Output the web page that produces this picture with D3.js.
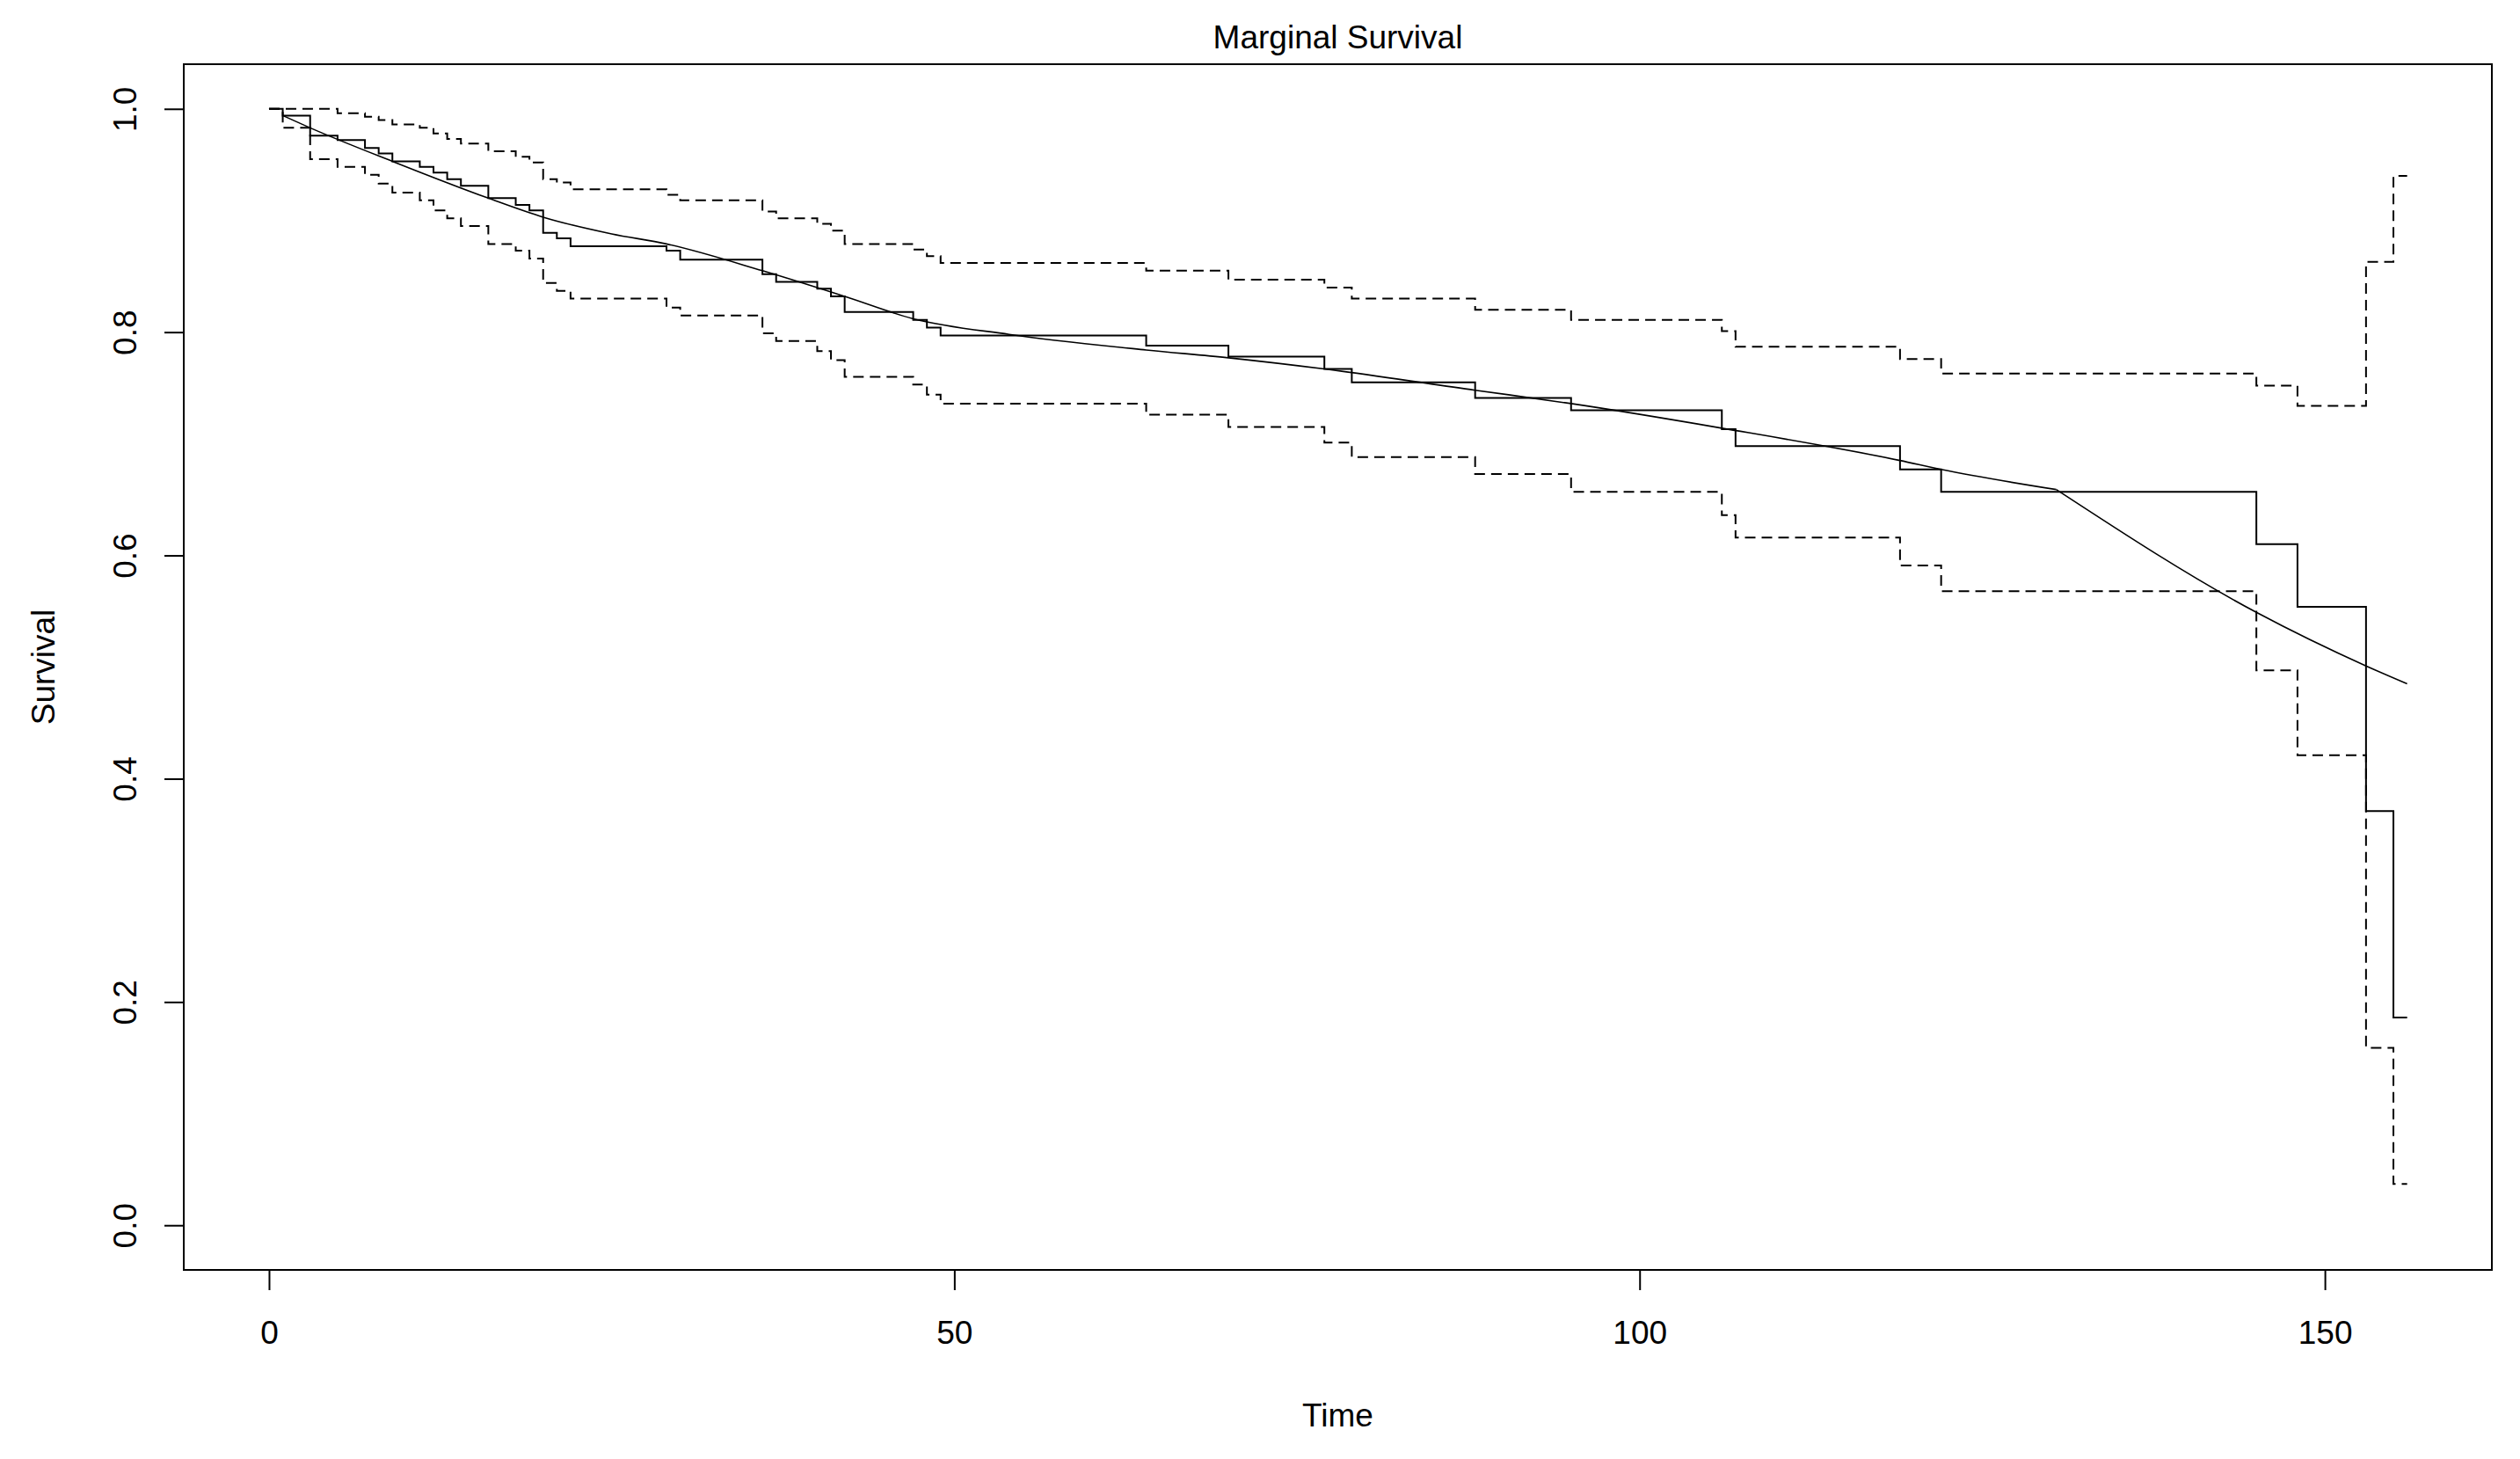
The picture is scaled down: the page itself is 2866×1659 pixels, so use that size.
<!DOCTYPE html>
<html>
<head>
<meta charset="utf-8">
<script src="https://cdn.jsdelivr.net/npm/d3@7"></script>
<style>
  html, body { margin: 0; padding: 0; background: #fff; }
  svg { display: block; }
  text { font-family: "Liberation Sans", Arial, sans-serif; fill: #000; }
</style>
</head>
<body>
<svg id="chart" width="2866" height="1659"></svg>
<script>
// ---- data ----
const timePoints = [0,1,3,5,7,8,9,11,12,13,14,16,18,19,20,21,22,29,30,36,37,40,41,42,47,48,49,64,70,77,79,88,95,106,107,119,122,145,148,153,155,156];
const kmSurvival = [1,0.994,0.976,0.972,0.965,0.960,0.953,0.948,0.943,0.937,0.931,0.920,0.914,0.909,0.889,0.884,0.877,0.873,0.865,0.852,0.845,0.839,0.832,0.818,0.811,0.804,0.797,0.788,0.778,0.767,0.755,0.741,0.730,0.713,0.698,0.677,0.657,0.610,0.554,0.371,0.186,0.186];
const upperCI = [1,1,1,0.996,0.993,0.990,0.986,0.983,0.978,0.973,0.969,0.962,0.957,0.952,0.937,0.934,0.928,0.923,0.918,0.908,0.902,0.897,0.891,0.879,0.874,0.868,0.862,0.855,0.847,0.840,0.830,0.820,0.811,0.801,0.787,0.776,0.763,0.752,0.734,0.863,0.940,0.940];
const lowerCI = [1,0.983,0.955,0.948,0.941,0.933,0.925,0.918,0.909,0.902,0.895,0.879,0.873,0.866,0.844,0.837,0.830,0.822,0.815,0.799,0.792,0.783,0.775,0.760,0.753,0.744,0.736,0.726,0.715,0.701,0.688,0.673,0.657,0.636,0.616,0.591,0.568,0.497,0.421,0.159,0.037,0.037];
const smoothTime = [1,3,9,16,20,25,29,36,42,47,54,64,70,77,88,95,106,119,122,130.4,145,153,156];
const smoothSurv = [0.994,0.983,0.953,0.920,0.903,0.888,0.879,0.855,0.832,0.812,0.798,0.784,0.777,0.767,0.748,0.736,0.714,0.685,0.677,0.659,0.549,0.501,0.485];
const smoothKnot = 130.4; // where the fitted curve changes slope sharply
const xTicks = [0,50,100,150];
const yTicks = [0,0.2,0.4,0.6,0.8,1.0];
const titleText = "Marginal Survival";
const xLabel = "Time";
const yLabel = "Survival";

// ---- layout ----
const svg = d3.select("#chart");
const boxL = 209, boxR = 2834, boxT = 73, boxB = 1444;
const x = d3.scaleLinear().domain([-6.24, 162.24]).range([208.7, 2834.9]);
const y = d3.scaleLinear().domain([-0.04, 1.04]).range([boxB, boxT]);
const FS = 37;

svg.append("rect").attr("width", 2866).attr("height", 1659).attr("fill", "#fff");

svg.append("clipPath").attr("id", "plotclip")
  .append("rect").attr("x", boxL).attr("y", boxT).attr("width", boxR - boxL).attr("height", boxB - boxT);

const g = svg.append("g").attr("clip-path", "url(#plotclip)");

const stepLine = (vals) => d3.line()
  .x((d, i) => x(timePoints[i]))
  .y((d) => y(d))
  .curve(d3.curveStepAfter)(vals);

// confidence bounds (dashed)
[upperCI, lowerCI].forEach(vals => {
  g.append("path")
    .attr("d", stepLine(vals))
    .attr("fill", "none")
    .attr("stroke", "#000")
    .attr("stroke-width", 2)
    .attr("stroke-dasharray", "12,7");
});

// KM step (solid)
g.append("path")
  .attr("d", stepLine(kmSurvival))
  .attr("fill", "none")
  .attr("stroke", "#000")
  .attr("stroke-width", 2);

// smooth fitted curve (two monotone pieces joined at the knot)
const smoothPts = smoothTime.map((t, i) => [t, smoothSurv[i]]);
const smoothLine = d3.line()
  .x(d => x(d[0]))
  .y(d => y(d[1]))
  .curve(d3.curveMonotoneX);
[smoothPts.filter(d => d[0] <= smoothKnot), smoothPts.filter(d => d[0] >= smoothKnot)].forEach(seg => {
  g.append("path")
    .attr("d", smoothLine(seg))
    .attr("fill", "none")
    .attr("stroke", "#000")
    .attr("stroke-width", 1.6);
});

// box
svg.append("rect")
  .attr("x", boxL).attr("y", boxT)
  .attr("width", boxR - boxL).attr("height", boxB - boxT)
  .attr("fill", "none").attr("stroke", "#000").attr("stroke-width", 2);

// x axis
const xAxis = svg.append("g").attr("transform", `translate(0,${boxB})`)
  .call(d3.axisBottom(x).tickValues(xTicks).tickSize(23).tickFormat(d3.format("d")));
xAxis.select(".domain").remove();
xAxis.selectAll(".tick line").attr("stroke", "#000").attr("stroke-width", 2);
xAxis.selectAll(".tick text")
  .attr("y", 84).attr("dy", 0)
  .attr("font-size", FS)
  .attr("font-family", '"Liberation Sans", Arial, sans-serif')
  .attr("fill", "#000");

// y axis
const yAxis = svg.append("g").attr("transform", `translate(${boxL},0)`)
  .call(d3.axisLeft(y).tickValues(yTicks).tickSize(22).tickFormat(d3.format(".1f")));
yAxis.select(".domain").remove();
yAxis.selectAll(".tick line").attr("stroke", "#000").attr("stroke-width", 2);
yAxis.selectAll(".tick text")
  .attr("x", 0).attr("y", 0).attr("dy", 0)
  .attr("transform", "translate(-54,0) rotate(-90)")
  .attr("text-anchor", "middle")
  .attr("font-size", FS)
  .attr("font-family", '"Liberation Sans", Arial, sans-serif')
  .attr("fill", "#000");

// labels
const cx = (boxL + boxR) / 2;
svg.append("text").attr("x", cx).attr("y", 55)
  .attr("text-anchor", "middle").attr("font-size", FS).text(titleText);
svg.append("text").attr("x", cx).attr("y", 1622)
  .attr("text-anchor", "middle").attr("font-size", FS).text(xLabel);
svg.append("text")
  .attr("transform", `translate(62,${(boxT + boxB) / 2}) rotate(-90)`)
  .attr("text-anchor", "middle").attr("font-size", FS).text(yLabel);
</script>
</body>
</html>
